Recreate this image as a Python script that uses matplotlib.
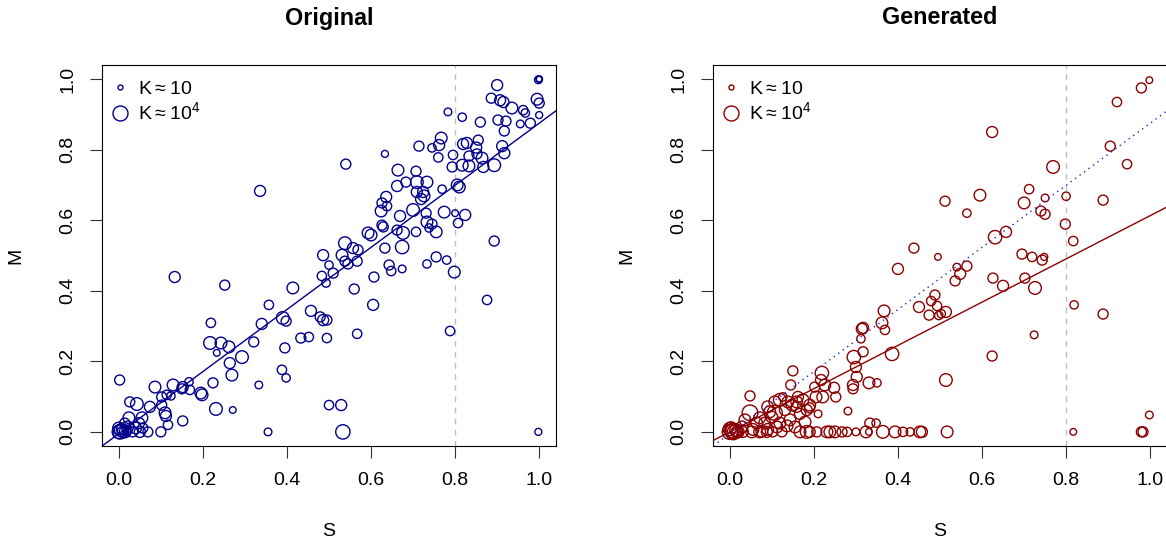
import numpy as np
import matplotlib
matplotlib.use("Agg")
import matplotlib.pyplot as plt
from matplotlib.lines import Line2D

plt.rcParams['font.family'] = ['Liberation Sans', 'DejaVu Sans']
plt.rcParams['mathtext.fontset'] = 'custom'
plt.rcParams['mathtext.rm'] = 'Liberation Sans'
plt.rcParams['mathtext.default'] = 'regular'

# ------------------------------------------------------------
# data (S, M, log10 K)
# ------------------------------------------------------------
orig_s = [1.0, 1.0, 0.998, 0.90, 0.886, 0.907, 0.915, 0.935, 0.995, 1.0,
          0.962, 0.967, 1.0, 0.955, 0.979, 0.783, 0.817, 0.86, 0.902, 0.921,
          0.917, 0.767, 0.762, 0.714, 0.745, 0.633, 0.76, 0.819, 0.828, 0.855,
          0.85, 0.852, 0.833, 0.864, 0.912, 0.917, 0.795, 0.54, 0.664, 0.707,
          0.793, 0.817, 0.833, 0.867, 0.893, 0.683, 0.662, 0.709, 0.733, 0.709,
          0.724, 0.726, 0.719, 0.769, 0.805, 0.81, 0.636, 0.626, 0.638, 0.624,
          0.70, 0.669, 0.731, 0.774, 0.8, 0.824, 0.807, 0.733, 0.745, 0.738,
          0.755, 0.626, 0.629, 0.593, 0.60, 0.662, 0.676, 0.707, 0.538, 0.531,
          0.557, 0.569, 0.633, 0.674, 0.893, 0.755, 0.78, 0.336, 0.486, 0.5,
          0.483, 0.493, 0.133, 0.252, 0.414, 0.357, 0.457, 0.479, 0.486, 0.495,
          0.39, 0.398, 0.34, 0.219, 0.217, 0.243, 0.262, 0.233, 0.321, 0.293,
          0.433, 0.452, 0.495, 0.395, 0.264, 0.269, 0.388, 0.398, 0.333, 0.002,
          0.086, 0.129, 0.152, 0.167, 0.169, 0.15, 0.102, 0.114, 0.124, 0.195,
          0.198, 0.224, 0.026, 0.043, 0.074, 0.11, 0.112, 0.117, 0.1, 0.069,
          0.152, 0.231, 0.271, 0.355, 0.50, 0.024, 0.055, 0.048, 0.04, 0.021,
          0.014, 0.057, 0.033, 0.05, 0.0, 0.005, 0.01, 0.0, 0.008, 0.015,
          0.003, 0.02, 0.102, 0.538, 0.545, 0.567, 0.51, 0.643, 0.648, 0.674,
          0.607, 0.733, 0.798, 0.56, 0.605, 0.567, 0.876, 0.788, 0.529, 0.533,
          0.998]
orig_m = [1.0, 1.0, 0.998, 0.983, 0.946, 0.94, 0.935, 0.918, 0.943, 0.932,
          0.912, 0.904, 0.898, 0.873, 0.875, 0.907, 0.892, 0.878, 0.884, 0.881,
          0.853, 0.833, 0.813, 0.81, 0.805, 0.788, 0.778, 0.816, 0.819, 0.827,
          0.806, 0.788, 0.782, 0.776, 0.81, 0.79, 0.785, 0.759, 0.742, 0.739,
          0.751, 0.756, 0.754, 0.751, 0.756, 0.708, 0.697, 0.708, 0.708, 0.68,
          0.68, 0.669, 0.66, 0.688, 0.70, 0.694, 0.666, 0.649, 0.64, 0.626,
          0.629, 0.612, 0.62, 0.623, 0.62, 0.615, 0.592, 0.595, 0.589, 0.578,
          0.567, 0.586, 0.581, 0.564, 0.558, 0.572, 0.564, 0.567, 0.535, 0.501,
          0.521, 0.516, 0.521, 0.524, 0.541, 0.496, 0.487, 0.683, 0.501, 0.473,
          0.442, 0.422, 0.439, 0.416, 0.408, 0.36, 0.343, 0.326, 0.317, 0.317,
          0.323, 0.314, 0.306, 0.309, 0.252, 0.252, 0.241, 0.224, 0.255, 0.212,
          0.266, 0.269, 0.266, 0.238, 0.195, 0.161, 0.176, 0.153, 0.133, 0.147,
          0.127, 0.133, 0.127, 0.142, 0.119, 0.122, 0.099, 0.105, 0.102, 0.11,
          0.105, 0.139, 0.085, 0.079, 0.071, 0.054, 0.045, 0.02, 0.0, 0.0,
          0.031, 0.065, 0.062, 0.0, 0.076, 0.04, 0.04, 0.025, 0.011, 0.014,
          0.025, 0.011, 0.0, 0.0, 0.0, 0.005, 0.0, 0.01, 0.008, 0.0,
          0.0, 0.005, 0.076, 0.484, 0.476, 0.484, 0.45, 0.473, 0.456, 0.462,
          0.439, 0.476, 0.453, 0.405, 0.36, 0.278, 0.374, 0.286, 0.076, 0.0,
          0.0]
orig_logk = [1.2, 1.5, 1.8, 2.8, 2.5, 2.8, 2.8, 3.0, 3.0, 2.5,
             2.3, 2.0, 1.6, 1.8, 2.5, 1.8, 2.0, 2.5, 2.5, 2.5,
             2.5, 3.0, 2.8, 2.5, 2.0, 1.6, 2.3, 2.8, 2.8, 2.5,
             2.8, 2.5, 2.5, 3.0, 2.8, 2.8, 2.3, 2.5, 3.0, 2.5,
             2.5, 3.0, 3.0, 2.8, 3.3, 2.5, 2.8, 3.3, 3.0, 2.8,
             2.8, 3.0, 2.8, 2.0, 3.0, 3.0, 2.8, 2.5, 2.3, 3.0,
             3.3, 2.8, 2.5, 3.0, 1.5, 2.8, 2.3, 3.0, 2.5, 2.0,
             3.0, 2.5, 2.5, 3.0, 3.0, 2.5, 3.3, 2.3, 3.3, 3.0,
             2.8, 2.5, 2.5, 3.5, 2.5, 2.5, 2.0, 2.8, 2.8, 2.0,
             2.3, 2.0, 2.8, 2.5, 3.0, 2.3, 2.8, 2.5, 2.8, 2.5,
             3.3, 2.5, 2.8, 2.3, 3.3, 3.0, 3.0, 1.5, 2.5, 3.3,
             2.5, 2.3, 2.3, 2.5, 2.8, 3.0, 2.3, 2.0, 1.8, 2.5,
             3.0, 3.0, 2.8, 2.0, 2.3, 2.5, 2.5, 2.3, 2.0, 3.0,
             3.0, 2.5, 2.5, 3.3, 2.8, 3.0, 2.8, 2.3, 2.5, 2.5,
             2.5, 3.3, 1.5, 1.8, 2.3, 3.0, 3.0, 2.8, 3.0, 3.0,
             2.5, 2.5, 2.5, 2.8, 3.5, 3.3, 3.0, 3.2, 2.8, 3.0,
             3.8, 2.5, 2.5, 2.5, 2.5, 2.5, 2.5, 2.5, 2.3, 1.8,
             2.5, 2.0, 3.0, 2.5, 2.8, 2.3, 2.3, 2.3, 2.8, 3.8,
             1.6]

gen_s = [0.438, 0.495, 0.998, 0.979, 0.921, 0.624, 0.905, 0.945, 0.769, 0.512,
         0.595, 0.564, 0.712, 0.70, 0.75, 0.74, 0.75, 0.8, 0.888, 0.798,
         0.817, 0.631, 0.657, 0.695, 0.719, 0.748, 0.743, 0.54, 0.564, 0.548,
         0.536, 0.626, 0.65, 0.702, 0.726, 0.514, 0.503, 0.819, 0.888, 0.724,
         0.624, 0.514, 0.517, 0.817, 0.979, 0.983, 0.998, 0.4, 0.488, 0.479,
         0.493, 0.45, 0.474, 0.497, 0.367, 0.362, 0.369, 0.314, 0.317, 0.312,
         0.317, 0.295, 0.3, 0.302, 0.293, 0.293, 0.331, 0.35, 0.386, 0.15,
         0.145, 0.219, 0.217, 0.226, 0.248, 0.252, 0.202, 0.048, 0.119, 0.126,
         0.162, 0.174, 0.19, 0.205, 0.221, 0.148, 0.159, 0.131, 0.095, 0.107,
         0.048, 0.21, 0.281, 0.179, 0.143, 0.119, 0.083, 0.064, 0.036, 0.333,
         0.348, 0.029, 0.055, 0.076, 0.09, 0.112, 0.136, 0.155, 0.071, 0.1,
         0.167, 0.183, 0.19, 0.159, 0.138, 0.107, 0.09,
         0.017, 0.031, 0.052, 0.071, 0.088, 0.102, 0.124, 0.167, 0.183, 0.19,
         0.207, 0.231, 0.238, 0.25, 0.267, 0.279, 0.3, 0.324, 0.331, 0.364,
         0.393, 0.412, 0.429, 0.452, 0.457,
         0.0, 0.005, 0.01, 0.0, 0.015, 0.008, 0.02, 0.003]
gen_m = [0.521, 0.496, 0.997, 0.975, 0.935, 0.85, 0.81, 0.759, 0.751, 0.654,
         0.671, 0.62, 0.688, 0.649, 0.663, 0.626, 0.617, 0.668, 0.657, 0.589,
         0.541, 0.552, 0.567, 0.504, 0.496, 0.496, 0.487, 0.467, 0.47, 0.448,
         0.428, 0.436, 0.414, 0.436, 0.408, 0.34, 0.335, 0.36, 0.334, 0.275,
         0.215, 0.147, 0.0, 0.0, 0.0, 0.0, 0.048, 0.462, 0.388, 0.371,
         0.357, 0.354, 0.331, 0.33, 0.343, 0.309, 0.289, 0.292, 0.295, 0.264,
         0.227, 0.212, 0.184, 0.156, 0.133, 0.122, 0.139, 0.139, 0.221, 0.173,
         0.133, 0.167, 0.147, 0.133, 0.125, 0.099, 0.127, 0.102, 0.091, 0.099,
         0.099, 0.091, 0.076, 0.099, 0.099, 0.076, 0.071, 0.062, 0.057, 0.054,
         0.054, 0.051, 0.059, 0.028, 0.034, 0.025, 0.025, 0.025, 0.034, 0.025,
         0.025, 0.014, 0.007, 0.002, 0.007, 0.014, 0.017, 0.014, 0.04, 0.042,
         0.051, 0.062, 0.068, 0.085, 0.085, 0.085, 0.071,
         0.0, 0.0, 0.0, 0.0, 0.0, 0.0, 0.0, 0.0, 0.0, 0.0,
         0.0, 0.0, 0.0, 0.0, 0.0, 0.0, 0.0, 0.0, 0.0, 0.0,
         0.0, 0.0, 0.0, 0.0, 0.0,
         0.0, 0.003, 0.0, 0.008, 0.005, 0.0, 0.0, 0.012]
gen_logk = [2.5, 1.5, 1.5, 2.5, 2.3, 2.8, 2.5, 2.3, 3.3, 2.5,
            3.0, 2.0, 2.3, 3.0, 1.8, 2.5, 2.5, 2.0, 2.5, 2.5,
            2.3, 3.5, 2.8, 2.5, 2.3, 1.6, 2.5, 1.8, 2.5, 2.8,
            2.5, 2.5, 2.8, 2.5, 3.3, 2.8, 2.0, 2.0, 2.5, 1.8,
            2.5, 3.3, 3.0, 1.5, 2.5, 2.5, 1.8, 2.8, 2.5, 2.3,
            2.3, 2.8, 2.5, 2.0, 3.0, 3.0, 2.3, 2.8, 2.8, 2.0,
            2.5, 3.5, 2.8, 2.8, 2.8, 2.5, 3.0, 2.0, 3.5, 2.5,
            2.5, 3.5, 2.8, 3.0, 2.8, 2.5, 2.5, 2.5, 3.3, 2.0,
            2.8, 3.0, 3.0, 3.0, 3.0, 3.0, 2.8, 2.8, 3.0, 4.0,
            4.2, 1.8, 1.8, 3.0, 3.0, 3.0, 3.0, 3.0, 3.0, 2.5,
            2.0, 3.0, 3.0, 3.0, 3.0, 3.0, 3.0, 3.0, 3.0, 3.0,
            2.8, 2.8, 2.5, 3.0, 3.0, 3.0, 3.0,
            3.0, 2.8, 3.0, 3.0, 2.8, 2.5, 2.5, 3.0, 3.3, 2.8,
            2.5, 3.0, 3.0, 3.0, 2.5, 2.3, 1.8, 3.0, 1.5, 3.3,
            3.0, 2.3, 2.0, 3.0, 2.8,
            4.0, 3.8, 3.5, 3.5, 3.3, 4.2, 3.0, 3.0]

# abline coefficients (intercept, slope)
fit_orig = (-0.005, 0.88)
fit_gen = (0.0, 0.613)
s_cut = 0.8

ticks = [0.0, 0.2, 0.4, 0.6, 0.8, 1.0]
tick_labels = ['0.0', '0.2', '0.4', '0.6', '0.8', '1.0']
legend_logk = [1, 4]
legend_labels = [r'K$\approx$10', r'K$\approx$10$^4$']

BLUE = '#00008B'
RED = '#8B0000'
GREY = '#BEBEBE'
DPI = 100


def diam_pt(logk):
    # circle diameter grows with log10 K: ~5px at K=10, ~15px at K=1e4
    d_px = 5 + (np.asarray(logk, dtype=float) - 1) * 10 / 3
    return d_px * 72 / DPI


def draw_panel(ax, s, m, logk, color, title, fit, ref_fit=None):
    ax.scatter(s, m, s=diam_pt(logk) ** 2, facecolors='none',
               edgecolors=color, linewidths=1.0, zorder=2)
    ax.axvline(s_cut, color=GREY, lw=1.0, dashes=(4, 4), zorder=1)
    ax.axline((0, fit[0]), slope=fit[1], color=color, lw=1.0, zorder=3)
    if ref_fit is not None:
        ax.axline((0, ref_fit[0]), slope=ref_fit[1], color='#2222DD',
                  lw=1.0, dashes=(1, 3), zorder=3)

    ax.set_xlim(-0.04, 1.04)
    ax.set_ylim(-0.04, 1.04)
    ax.set_xticks(ticks)
    ax.set_xticklabels(tick_labels)
    ax.set_yticks(ticks)
    ax.set_yticklabels(tick_labels, rotation=90, va='center')
    ax.tick_params(direction='out', length=8.6, width=0.8, labelsize=14,
                   pad=10, color='#333333')
    for sp in ax.spines.values():
        sp.set_linewidth(0.8)

    ax.set_xlabel('S', fontsize=14, va='center')
    ax.xaxis.set_label_coords(0.5, -(532 - 446) / 381)
    ax.set_ylabel('M', fontsize=14, va='center')
    ax.yaxis.set_label_coords(-86 / 454, 0.5)
    ax.set_title(title, fontsize=16.8, fontweight='bold', y=(446 - 18) / 381,
                 va='center', pad=0)

    handles = [Line2D([], [], ls='none', marker='o', mfc='none', mec=color,
                      mew=1.0, markersize=d) for d in diam_pt(legend_logk)]
    ax.legend(handles, legend_labels, loc='upper left',
              bbox_to_anchor=(8 / 454, (446 - 80) / 381), frameon=False,
              fontsize=14, handlelength=1.0, handletextpad=0.45,
              labelspacing=0.2, borderpad=0, borderaxespad=0)


fig = plt.figure(figsize=(11.66, 5.4), dpi=DPI)
ax1 = fig.add_axes([102 / 1166, 94 / 540, 454 / 1166, 381 / 540])
ax2 = fig.add_axes([713 / 1166, 94 / 540, 454 / 1166, 381 / 540])

draw_panel(ax1, orig_s, orig_m, orig_logk, BLUE, 'Original', fit_orig)
draw_panel(ax2, gen_s, gen_m, gen_logk, RED, 'Generated', fit_gen,
           ref_fit=fit_orig)

fig.savefig('out.png', dpi=DPI)
